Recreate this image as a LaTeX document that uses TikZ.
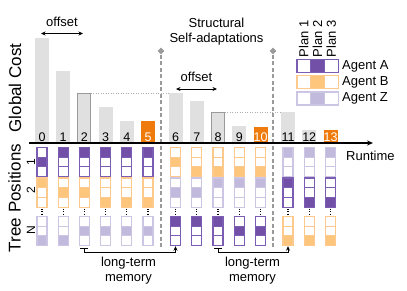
\documentclass[tikz,border=0pt]{standalone}
\usepackage{fontspec}
\setmainfont{Liberation Sans}
\usetikzlibrary{arrows.meta,shapes.geometric}
\definecolor{fillA}{HTML}{7350A8}
\definecolor{lineA}{HTML}{7C5DB4}
\definecolor{fillB}{HTML}{FEC67C}
\definecolor{lineB}{HTML}{FDC98C}
\definecolor{fillZ}{HTML}{C2BADD}
\definecolor{lineZ}{HTML}{CCC6E4}
\definecolor{barg}{HTML}{E0E0E0}
\definecolor{baro}{HTML}{EE7B0C}
\definecolor{dgray}{HTML}{9A9A9A}
\begin{document}
\begin{tikzpicture}[x=1pt,y=-1pt,
  gbar/.style={fill=barg,draw=none,minimum width=14pt,inner sep=0pt,outer sep=0pt},
  obar/.style={fill=baro,draw=none,minimum width=14pt,inner sep=0pt,outer sep=0pt},
  hbar/.style={fill=barg,draw=dgray,line width=0.9pt,minimum width=13pt,inner sep=0pt,outer sep=0pt},
  numlbl/.style={font=\fontsize{12.5}{14}\selectfont,inner sep=0pt},
  txt/.style={font=\fontsize{13}{15}\selectfont,inner sep=0pt},
  bigtxt/.style={font=\fontsize{17}{20}\selectfont,inner sep=0pt,rotate=90},
  grplbl/.style={font=\fontsize{12}{14}\selectfont,inner sep=0pt,rotate=90},
  cell/.style={minimum width=10pt,minimum height=9.7pt,inner sep=0pt,outer sep=0pt,line width=1.1pt},
  lcell/.style={minimum width=13.7pt,minimum height=13pt,inner sep=0pt,outer sep=0pt,line width=1.1pt},
  vdots/.style={line width=1.2pt,dash pattern=on 1.2pt off 1.2pt},
  guide/.style={draw=dgray!80,line width=0.8pt,dash pattern=on 1pt off 1.5pt},
  sadash/.style={draw=dgray,line width=1.6pt,dash pattern=on 4pt off 2.5pt},
  sadia/.style={diamond,fill=dgray,minimum size=7pt,inner sep=0pt},
  offarr/.style={line width=0.8pt,{Stealth[length=4.5pt,width=4pt]}-{Stealth[length=4.5pt,width=4pt]}},
  memarr/.style={line width=0.9pt,{Bar[width=8pt]}-{Stealth[length=4.5pt,width=4pt]}}
]
\useasboundingbox (0,0) rectangle (407,291);

% bars of the global cost
\foreach \n/\x/\t/\sty/\tc in {0/42/38/gbar/black, 1/63.2/71/gbar/black, 2/84.4/93/hbar/black,
  3/105.6/107/gbar/black, 4/126.8/121/gbar/black, 5/148/121/obar/white, 6/175.5/93/gbar/black,
  7/196.75/101/gbar/black, 8/218/112/hbar/black, 9/239.25/126/gbar/black, 10/260.5/127/obar/white,
  11/288/112/gbar/black, 12/309.2/130/gbar/black, 13/330.5/130/obar/white}{
  \pgfmathsetmacro\h{142-\t}
  \node[\sty, minimum height=\h pt, anchor=south] (b\n) at (\x,142) {};
  \node[numlbl, text=\tc, anchor=base] (n\n) at (\x,141.3) {\n};
}
\draw[guide] (b2.north east) -- (b6.north west);
\draw[guide] (b8.north east) -- (b11.north west);

% offsets
\coordinate (o1a) at (41,33.5);
\coordinate (o1b) at (83,33.5);
\draw[offarr] (o1a) -- (o1b);
\node[txt, anchor=base] (off1) at (62,26.5) {offset};
\coordinate (o2a) at (176,89);
\coordinate (o2b) at (217,89);
\draw[offarr] (o2a) -- (o2b);
\node[txt, anchor=base] (off2) at (196.5,82) {offset};

% structural self-adaptations
\node[txt, align=center, anchor=north] (ssa) at (216.5,17.5) {Structural\\Self-adaptations};
\node[sadia] (d1) at (161,51) {};
\node[sadia] (d2) at (273,51) {};
\coordinate (d1b) at (161,249);
\coordinate (d2b) at (273,249);
\draw[sadash] (d1) -- (d1b);
\draw[sadash] (d2) -- (d2b);

% runtime axis
\coordinate (ax0) at (29,143);
\coordinate (ax1) at (373,143);
\draw[line width=1.3pt,-{Stealth[length=6pt,width=5pt]}] (ax0) -- (ax1);
\node[txt, anchor=base west] (rt) at (346,161) {Runtime};

% axis labels
\node[bigtxt] (gc) at (15,88) {Global Cost};
\node[bigtxt] (tp) at (14.5,198) {Tree Positions};
\node[grplbl] (g1) at (31,162) {1};
\node[grplbl] (g2) at (31,190) {2};
\node[grplbl] (g3) at (31,230) {N};

% tree position cells
\foreach \n/\x/\aa/\fa/\ab/\fb/\ac/\fc in {0/42/A/1/B/0/Z/2, 1/63.2/A/0/B/1/Z/2, 2/84.4/A/0/B/1/Z/1,
  3/105.6/A/0/B/2/Z/1, 4/126.8/A/0/B/2/Z/1, 5/148/A/0/B/2/Z/1,
  6/175.5/B/1/Z/1/A/0, 7/196.75/B/2/Z/1/A/0, 8/218/B/2/Z/0/A/0, 9/239.25/B/2/Z/0/A/1, 10/260.5/B/2/Z/0/A/1,
  11/288/Z/0/A/0/B/2, 12/309.2/Z/0/A/2/B/2, 13/330.5/Z/0/A/2/B/2}{
  \foreach \g/\gy/\ag/\fg in {1/147.5/\aa/\fa, 2/178/\ab/\fb, 3/216.5/\ac/\fc}{
    \foreach \k in {0,1,2}{
      \ifnum\k=\fg\relax \edef\cf{fill\ag}\else \def\cf{white}\fi
      \edef\cl{line\ag}
      \node[cell, draw=\cl, fill=\cf] (c\n-\g-\k) at (\x,{\gy+9.7*(\k+0.5)}) {};
    }
  }
  \draw[vdots] ([yshift=-1.8pt]c\n-2-2.south) -- ([yshift=1.8pt]c\n-3-0.north);
}

% long-term memory
\draw[memarr] ([yshift=-2pt]c2-3-2.south) -- ++(0,5) -| ([yshift=-0.6pt]c6-3-2.south);
\draw[memarr] ([yshift=-2pt]c8-3-2.south) -- ++(0,5) -| ([yshift=-0.6pt]c11-3-2.south);
\node[txt, align=center] (ltm1) at (128.5,271) {long-term\\memory};
\node[txt, align=center] (ltm2) at (252.5,271) {long-term\\memory};

% legend
\foreach \i/\px in {1/303.8, 2/317.5, 3/331.2}{
  \node[txt, rotate=90, anchor=west] (p\i) at (\px,57.5) {Plan \i};
}
\foreach \r/\ry/\nm in {A/66/Agent A, B/82/Agent B, Z/98.5/Agent Z}{
  \node[lcell, draw=line\r, fill=white] (l\r1) at (303.8,\ry) {};
  \node[lcell, draw=line\r, fill=fill\r] (l\r2) at (317.5,\ry) {};
  \node[lcell, draw=line\r, fill=white] (l\r3) at (331.2,\ry) {};
  \node[txt, anchor=west] (t\r) at (342,\ry) {\nm};
}
\end{tikzpicture}
\end{document}
